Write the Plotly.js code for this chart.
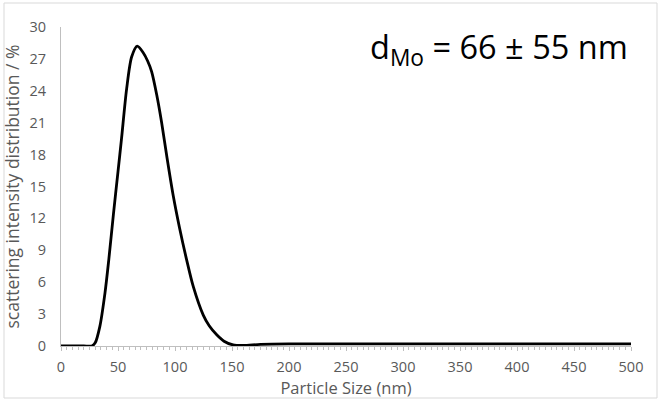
<!DOCTYPE html>
<html>
<head>
<meta charset="utf-8">
<script src="https://cdn.plot.ly/plotly-3.0.1.min.js"></script>
<style>
html,body{margin:0;padding:0;background:#fff;}
#chart{width:661px;height:402px;}
</style>
</head>
<body>
<div id="chart"></div>
<script>
// Particle size (nm)
const sizes = [0, 10, 20, 27, 30, 34, 38.6, 42, 46, 50, 53, 57.6, 62, 66.9, 72, 76, 79.5, 84, 88.3, 93, 98.5, 104, 110, 116, 124.8, 130, 136.6, 143, 151, 160, 175, 200, 250, 300, 350, 400, 450, 500];
// Scattering intensity distribution (%)
const intensity = [0, 0, 0, 0, 0.3, 1.8, 5.0, 8.2, 12.4, 16.4, 19.4, 24.2, 27.2, 28.2, 27.6, 26.8, 25.8, 23.6, 21.0, 17.7, 14.1, 11.1, 8.2, 5.6, 2.9, 1.9, 1.05, 0.45, 0.1, 0.05, 0.15, 0.2, 0.2, 0.2, 0.2, 0.2, 0.2, 0.2];
const xTicks = [0, 50, 100, 150, 200, 250, 300, 350, 400, 450, 500];
const yTicks = [0, 3, 6, 9, 12, 15, 18, 21, 24, 27, 30];
const annotationText = 'd<sub>Mo</sub> = 66 ± 55 nm';

const font = 'Open Sans, Noto Sans, sans-serif';
const grey = '#595959';
const trace = {
  x: sizes, y: intensity, type: 'scatter', mode: 'lines',
  line: {color: '#000000', width: 2.8, shape: 'spline', smoothing: 0.8},
  hoverinfo: 'skip'
};
const layout = {
  width: 661, height: 402,
  margin: {l: 61, r: 30, t: 27, b: 56},
  paper_bgcolor: '#ffffff', plot_bgcolor: '#ffffff',
  showlegend: false,
  font: {family: font, color: grey, size: 14},
  xaxis: {
    range: [0, 500], tickvals: xTicks, ticktext: xTicks.map(String),
    showline: true, linecolor: '#bfbfbf', linewidth: 1, showgrid: false, zeroline: false,
    ticks: 'outside', ticklen: 4, tickcolor: '#bfbfbf', ticklabelstandoff: 4,
    minor: {dtick: 5, ticks: 'outside', ticklen: 3, tickcolor: '#bfbfbf', showgrid: false},
    tickfont: {family: font, size: 14.5, color: grey},
    title: {text: 'Particle Size (nm)', font: {family: font, size: 16.5, color: grey}, standoff: 2}
  },
  yaxis: {
    range: [0, 30], tickvals: yTicks, ticktext: yTicks.map(String),
    showline: true, linecolor: '#bfbfbf', linewidth: 1, showgrid: false, zeroline: false,
    ticks: '', ticklabelstandoff: 11,
    tickfont: {family: font, size: 14.5, color: grey},
    title: {text: 'scattering intensity distribution / %', font: {family: font, size: 17.5, color: grey}, standoff: 5}
  },
  annotations: [{
    xref: 'paper', yref: 'paper', x: 0.998, y: 0.934, xanchor: 'right', yanchor: 'middle',
    text: annotationText, showarrow: false,
    font: {family: font, size: 32.5, color: '#000000'}
  }],
  shapes: [{
    type: 'rect', xref: 'paper', yref: 'paper',
    x0: -57/570, x1: 1 + 26/570, y0: -52/319, y1: 1 + 24/319,
    line: {color: '#d9d9d9', width: 1}, fillcolor: 'rgba(0,0,0,0)', layer: 'below'
  }]
};
Plotly.newPlot('chart', [trace], layout, {displayModeBar: false, staticPlot: true});
</script>
</body>
</html>
